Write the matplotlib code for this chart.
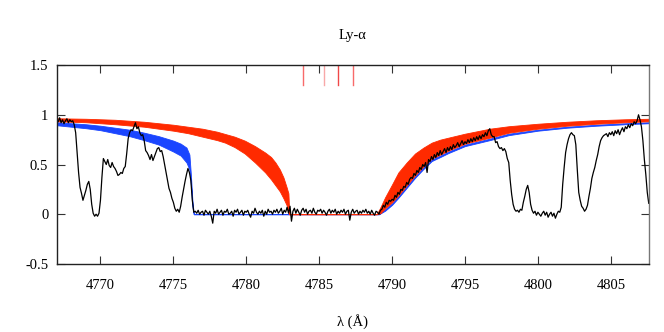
import numpy as np
import matplotlib
matplotlib.use("Agg")
import matplotlib.pyplot as plt

plt.rcParams['font.family'] = ['Liberation Serif', 'DejaVu Serif']

# observed spectrum, 0.1 A steps starting at 4767.0
wl_start = 4767.0
wl_step = 0.1
flux = [
    0.95, 0.93, 0.97, 0.92, 0.95, 0.91, 0.94, 0.96, 0.92, 0.95,
    0.93, 0.94, 0.90, 0.82, 0.62, 0.42, 0.27, 0.21, 0.14, 0.19,
    0.24, 0.30, 0.33, 0.25, 0.10, 0.01, -0.02, 0.00, -0.02, 0.01,
    0.14, 0.37, 0.56, 0.53, 0.50, 0.55, 0.49, 0.47, 0.52, 0.48,
    0.46, 0.43, 0.39, 0.40, 0.42, 0.41, 0.46, 0.48, 0.61, 0.76,
    0.82, 0.85, 0.84, 0.88, 0.92, 0.86, 0.88, 0.82, 0.79, 0.80,
    0.74, 0.64, 0.62, 0.59, 0.55, 0.60, 0.54, 0.58, 0.62, 0.66,
    0.67, 0.63, 0.64, 0.58, 0.50, 0.42, 0.34, 0.26, 0.22, 0.16,
    0.12, 0.06, 0.03, 0.05, 0.02, 0.08, 0.17, 0.25, 0.33, 0.40,
    0.46, 0.42, 0.34, 0.14, 0.02, 0.03, 0.01, 0.04, 0.00, 0.02,
    0.03, -0.01, 0.04, 0.02, 0.00, 0.03, -0.02, -0.09, 0.03, 0.01,
    0.05, 0.00, 0.02, 0.04, -0.01, 0.03, 0.02, 0.05, 0.00, 0.01,
    0.03, -0.02, 0.04, 0.02, 0.05, 0.00, 0.02, 0.04, -0.01, 0.03,
    0.02, 0.04, 0.00, -0.03, 0.03, 0.01, 0.06, 0.02, 0.00, 0.03,
    0.01, 0.04, -0.02, 0.03, 0.00, 0.05, 0.02, 0.03, 0.00, 0.04,
    0.02, 0.05, 0.01, 0.03, 0.06, 0.00, 0.04, 0.02, 0.07, 0.01,
    0.08, -0.07, 0.03, 0.06, 0.01, 0.05, 0.02, -0.01, 0.04, 0.06,
    0.02, 0.05, 0.00, 0.03, 0.04, 0.01, 0.06, 0.02, 0.00, 0.04,
    0.03, 0.05, 0.01, 0.04, 0.02, -0.01, 0.03, 0.05, 0.01, 0.04,
    0.02, 0.05, 0.00, 0.03, 0.01, 0.04, 0.02, 0.05, 0.00, 0.03,
    0.04, -0.06, 0.02, 0.05, 0.01, 0.03, 0.04, 0.00, 0.03, 0.01,
    0.04, 0.02, 0.05, 0.01, 0.03, 0.00, 0.04, 0.01, -0.01, 0.03,
    0.02, 0.00, 0.04, 0.05, 0.09, 0.07, 0.12, 0.10, 0.14, 0.13,
    0.15, 0.14, 0.19, 0.17, 0.22, 0.20, 0.25, 0.24, 0.28, 0.27,
    0.32, 0.30, 0.35, 0.37, 0.36, 0.41, 0.39, 0.44, 0.42, 0.47,
    0.45, 0.50, 0.48, 0.52, 0.42, 0.55, 0.53, 0.58, 0.55, 0.60,
    0.57, 0.62, 0.59, 0.64, 0.60, 0.63, 0.66, 0.62, 0.67, 0.64,
    0.68, 0.65, 0.70, 0.67, 0.69, 0.72, 0.68, 0.71, 0.74, 0.70,
    0.73, 0.71, 0.75, 0.72, 0.76, 0.73, 0.77, 0.74, 0.78, 0.75,
    0.79, 0.76, 0.80, 0.78, 0.82, 0.79, 0.84, 0.86, 0.80, 0.78,
    0.78, 0.72, 0.73, 0.68, 0.66, 0.67, 0.64, 0.66, 0.63, 0.56,
    0.52, 0.34, 0.20, 0.10, 0.05, 0.03, 0.04, 0.02, 0.05, 0.04,
    0.12, 0.18, 0.25, 0.29, 0.22, 0.10, 0.04, 0.01, 0.03, -0.01,
    0.02, 0.00, -0.02, 0.01, 0.03, -0.01, 0.02, -0.03, 0.00, 0.02,
    -0.02, 0.01, -0.04, 0.00, 0.03, 0.02, 0.07, 0.30, 0.47, 0.62,
    0.70, 0.76, 0.80, 0.82, 0.80, 0.79, 0.70, 0.45, 0.22, 0.14,
    0.08, 0.06, 0.03, 0.05, 0.09, 0.18, 0.26, 0.36, 0.42, 0.47,
    0.54, 0.60, 0.68, 0.74, 0.77, 0.79, 0.80, 0.81, 0.78, 0.82,
    0.80, 0.83, 0.79, 0.84, 0.81, 0.85, 0.80, 0.84, 0.87, 0.83,
    0.88, 0.86, 0.90, 0.87, 0.91, 0.89, 0.93, 0.91, 0.94, 1.00,
    0.95, 0.88, 0.74, 0.55, 0.40, 0.22, 0.11,
]

# model profile bands (upper / lower edge)
red_wl = [4767.0, 4769.0, 4771.0, 4773.0, 4775.0, 4776.0, 4777.0, 4778.0,
          4778.55, 4779.2, 4779.9, 4780.6, 4781.3, 4781.7, 4782.0, 4782.3,
          4782.55, 4782.77, 4782.89, 4782.95,
          4788.95, 4789.2, 4789.52, 4790.0, 4790.43, 4791.0, 4791.57, 4792.15,
          4792.72, 4793.3, 4793.86, 4795.0, 4796.7, 4798.0, 4800.0, 4802.0,
          4804.0, 4806.0, 4807.6]
red_hi = [0.965, 0.96, 0.95, 0.93, 0.90, 0.88, 0.86, 0.83,
          0.807, 0.78, 0.74, 0.685, 0.62, 0.575, 0.52, 0.45,
          0.37, 0.27, 0.21, 0.0,
          0.0, 0.07, 0.17, 0.30, 0.42, 0.52, 0.61, 0.67,
          0.72, 0.75, 0.77, 0.81, 0.86, 0.885, 0.91, 0.93,
          0.945, 0.955, 0.96]
red_lo = [0.935, 0.925, 0.905, 0.88, 0.84, 0.815, 0.78, 0.745,
          0.72, 0.675, 0.61, 0.52, 0.42, 0.35, 0.29, 0.23,
          0.16, 0.09, 0.02, 0.0,
          0.0, 0.01, 0.06, 0.12, 0.19, 0.29, 0.39, 0.48,
          0.56, 0.60, 0.64, 0.71, 0.77, 0.82, 0.86, 0.89,
          0.91, 0.925, 0.935]

blue_wl = [4767.0, 4768.0, 4769.0, 4770.0, 4771.0, 4772.0, 4773.0, 4774.0,
           4775.0, 4775.5, 4775.9, 4776.1, 4776.2, 4776.3, 4776.4,
           4789.1, 4789.52, 4790.0, 4790.43, 4791.0, 4791.57, 4792.15, 4792.72,
           4793.3, 4793.86, 4795.0, 4796.7, 4798.0, 4800.0, 4802.0, 4804.0,
           4806.0, 4807.6]
blue_hi = [0.925, 0.915, 0.905, 0.89, 0.87, 0.85, 0.82, 0.785,
           0.74, 0.71, 0.67, 0.60, 0.40, 0.15, 0.0,
           0.0, 0.05, 0.11, 0.18, 0.28, 0.38, 0.47, 0.55,
           0.59, 0.63, 0.70, 0.76, 0.81, 0.85, 0.88, 0.90,
           0.915, 0.925]
blue_lo = [0.895, 0.88, 0.865, 0.845, 0.815, 0.785, 0.745, 0.70,
           0.63, 0.59, 0.52, 0.45, 0.30, 0.08, 0.0,
           0.0, 0.035, 0.095, 0.165, 0.265, 0.365, 0.455, 0.535,
           0.575, 0.615, 0.685, 0.745, 0.795, 0.84, 0.87, 0.89,
           0.905, 0.915]

# component markers at the top
comp_wl = [4783.9, 4785.3, 4786.3, 4787.3]
comp_col = ['#f86a6a', '#f8a8a8', '#f04848', '#f86a6a']

wl = np.round(wl_start + wl_step * np.arange(len(flux)), 2)

fig = plt.figure(figsize=(6.64, 3.32), dpi=100)
ax = fig.add_axes([0.0854, 0.205, 0.8916, 0.599])

ax.fill_between(blue_wl, blue_lo, blue_hi, color='#1a45ff', lw=0.6, edgecolor='#1a45ff')
ax.fill_between(red_wl, red_lo, red_hi, color='#ff2a00', lw=0.6, edgecolor='#ff2a00')
ax.plot(wl, flux, color='black', lw=0.9)

for w, c in zip(comp_wl, comp_col):
    ax.plot([w, w], [1.3, 1.5], color=c, lw=1.0)

ax.set_xlim(4767.0, 4807.6)
ax.set_ylim(-0.5, 1.5)
ax.set_xticks([4770, 4775, 4780, 4785, 4790, 4795, 4800, 4805])
ax.set_yticks([-0.5, 0, 0.5, 1, 1.5])
ax.set_yticklabels(['-0.5', '0', '0.5', '1', '1.5'])
ax.tick_params(direction='in', length=6, width=0.8, top=True, right=True,
               labelsize=10.5, colors='#333333', labelcolor='black')
ax.tick_params(axis='x', pad=11)
ax.tick_params(axis='y', pad=6)
for s in ax.spines.values():
    s.set_linewidth(1.0)
    s.set_color('#222222')
ax.spines['right'].set_color('#777777')

ax.set_title('Ly-α', fontsize=10.5, pad=19)
ax.set_xlabel('λ (Å)', fontsize=10.5, labelpad=16)

fig.savefig('out.png', dpi=100)
